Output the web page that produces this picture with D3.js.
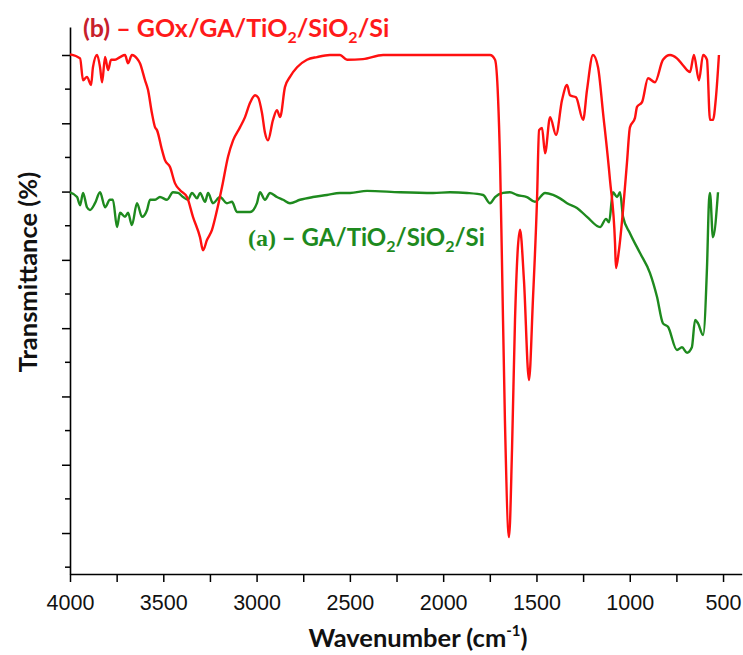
<!DOCTYPE html>
<html><head><meta charset="utf-8">
<script src="https://cdn.jsdelivr.net/npm/d3@7"></script>
<style>body{margin:0;background:#fff}svg{display:block}</style>
</head><body>
<svg id="c" width="743" height="655"></svg>
<script>
// wavenumber (cm-1)
const redW = [4000,3946,3930,3909,3887,3877,3855,3839,3828,3812,3796,3780,3759,3732,3705,3689,3668,3641,3625,3598,3582,3561,3544,3534,3507,3491,3464,3437,3410,3373,3341,3303,3287,3266,3239,3212,3185,3153,3126,3089,3062,3035,3008,2992,2971,2955,2939,2912,2891,2874,2848,2821,2783,2730,2676,2607,2553,2515,2430,2322,2140,1749,1722,1706,1695,1685,1669,1647,1631,1615,1588,1567,1540,1519,1497,1486,1470,1454,1427,1395,1363,1336,1320,1288,1250,1229,1197,1170,1143,1106,1079,1074,1058,1036,1015,999,972,961,934,902,865,822,784,747,715,677,656,629,607,586,570,554,538,522];
const redT = [70.1,69.5,66.3,66.8,65.6,68.2,70.0,68.2,66.0,69.7,67.8,69.3,69.3,69.7,70.0,68.8,70.0,69.5,68.8,66.3,64.9,61.5,59.4,59.0,56.1,54.6,53.6,51.2,50.2,49.2,46.3,43.3,41.4,42.9,44.4,47.3,50.7,55.1,57.5,59.4,60.9,63.0,64.1,63.8,61.5,58.6,57.5,60.5,61.9,60.9,65.3,66.8,68.2,69.3,69.7,70.0,70.0,69.3,69.4,70.0,70.0,70.0,69.3,63.8,54.2,40.0,16.5,-0.6,12.2,31.2,44.4,37.0,22.4,34.1,48.8,59.0,59.3,55.6,60.9,58.3,63.4,65.6,64.1,63.8,60.5,64.9,70.0,68.2,61.5,51.7,42.5,38.8,41.4,47.3,54.2,59.4,60.8,62.4,63.1,66.6,66.0,69.3,70.0,69.5,68.5,67.5,70.0,66.3,70.0,69.3,60.5,60.5,63.8,70.0];
const greenW = [4000,3962,3946,3930,3909,3893,3866,3839,3812,3786,3770,3748,3732,3705,3689,3668,3641,3614,3587,3571,3544,3518,3480,3448,3421,3394,3368,3346,3319,3303,3276,3260,3234,3196,3159,3132,3105,3073,3035,2998,2982,2955,2928,2891,2858,2821,2767,2698,2623,2553,2499,2408,2231,2054,1963,1872,1786,1749,1722,1679,1642,1604,1551,1508,1454,1411,1374,1336,1283,1229,1159,1127,1111,1090,1068,1052,1036,999,945,892,854,822,795,747,720,693,667,650,634,607,586,575,570,554,527];
const greenT = [49.9,49.2,48.0,49.8,47.7,47.3,48.3,49.9,47.7,48.8,48.8,44.8,46.9,46.3,46.9,45.1,48.3,46.3,47.3,48.8,48.8,49.2,48.8,49.9,49.8,49.2,48.8,49.8,49.0,49.8,48.5,49.8,48.3,49.2,48.3,48.5,47.0,47.0,47.0,48.3,49.9,48.8,49.8,49.2,48.8,48.3,48.8,49.2,49.5,49.8,49.8,50.1,49.9,49.8,49.9,49.8,49.5,48.3,49.2,49.8,49.9,49.5,49.2,48.5,49.8,49.5,49.0,48.3,47.6,46.3,44.8,46.0,45.5,49.9,49.2,49.9,46.3,43.9,41.0,38.1,34.6,30.7,30.2,26.8,27.2,26.4,27.2,31.2,30.7,29.0,38.9,48.8,49.8,43.3,49.9];
const xTickLabels = [4000,3500,3000,2500,2000,1500,1000,500];
const xMinorTicks = [3750,3250,2750,2250,1750,1250,750];
const yMajorTicks = [0,10,20,30,40,50,60,70];
const yMinorTicks = [-5,5,15,25,35,45,55,65];

const svg = d3.select('#c');
const x = d3.scaleLinear().domain([4000,400]).range([70,741.7]);
const y = d3.scaleLinear().domain([-6,74.1]).range([574,27]);

const gx = svg.append('g').attr('transform','translate(0,574)');
gx.call(d3.axisBottom(x).tickValues(xTickLabels.concat(xMinorTicks)).tickSize(8).tickSizeOuter(0)
  .tickFormat(d => xTickLabels.includes(d) ? d : ''));
gx.select('.domain').attr('stroke','#000').attr('stroke-width',1.6);
gx.selectAll('.tick line').attr('stroke','#000').attr('stroke-width',1.5);
gx.selectAll('.tick text').attr('font-family','Liberation Sans, Arial, sans-serif').attr('font-size',21.5).attr('fill','#111')
  .attr('y',36).attr('dy',0);

const gy = svg.append('g').attr('transform','translate(70,0)');
gy.call(d3.axisLeft(y).tickValues(yMajorTicks).tickSize(8).tickSizeOuter(0).tickFormat(''));
gy.call(g => g.selectAll('.minor').data(yMinorTicks).join('line').attr('class','minor')
  .attr('x1',-5).attr('x2',0).attr('y1',d=>y(d)).attr('y2',d=>y(d)).attr('stroke','#000').attr('stroke-width',1.5));
gy.select('.domain').attr('stroke','#000').attr('stroke-width',1.6);
gy.selectAll('.tick line').attr('stroke','#000').attr('stroke-width',1.5);

const line = d3.line().x(d=>x(d[0])).y(d=>y(d[1])).curve(d3.curveMonotoneX);
svg.append('path').datum(greenW.map((w,i)=>[w,greenT[i]])).attr('d',line)
  .attr('fill','none').attr('stroke','#1e8a1e').attr('stroke-width',2.4).attr('stroke-linejoin','round');
svg.append('path').datum(redW.map((w,i)=>[w,redT[i]])).attr('d',line)
  .attr('fill','none').attr('stroke','#ff1010').attr('stroke-width',2.4).attr('stroke-linejoin','round');

// labels
const tb = svg.append('text').attr('x',83).attr('y',37).attr('font-family','Lato, sans-serif').attr('font-weight',700).attr('font-size',25);
tb.append('tspan').attr('fill','#c8202c').text('(b)');
tb.append('tspan').attr('fill','#ff1a1a').text(' – GOx/GA/TiO');
tb.append('tspan').attr('fill','#ff1a1a').attr('font-size',16).attr('dy',6).text('2');
tb.append('tspan').attr('fill','#ff1a1a').attr('dy',-6).text('/SiO');
tb.append('tspan').attr('fill','#ff1a1a').attr('font-size',16).attr('dy',6).text('2');
tb.append('tspan').attr('fill','#ff1a1a').attr('dy',-6).text('/Si');

const ta = svg.append('text').attr('x',248).attr('y',246).attr('fill','#1e8a1e').attr('font-weight',700).attr('font-size',24);
ta.append('tspan').attr('font-family','Liberation Serif, serif').text('(a)');
ta.append('tspan').attr('font-family','Lato, sans-serif').text(' – GA/TiO');
ta.append('tspan').attr('font-family','Lato, sans-serif').attr('font-size',16).attr('dy',6).text('2');
ta.append('tspan').attr('font-family','Lato, sans-serif').attr('dy',-6).text('/SiO');
ta.append('tspan').attr('font-family','Lato, sans-serif').attr('font-size',16).attr('dy',6).text('2');
ta.append('tspan').attr('font-family','Lato, sans-serif').attr('dy',-6).text('/Si');

const xl = svg.append('text').attr('x',418).attr('y',647).attr('text-anchor','middle').attr('font-family','Lato, sans-serif').attr('font-weight',700).attr('font-size',25.5).attr('fill','#111');
xl.append('tspan').text('Wavenumber (cm');
xl.append('tspan').attr('font-size',15).attr('dy',-11).text('-1');
xl.append('tspan').attr('dy',11).text(')');

svg.append('text').attr('transform','translate(37,272) rotate(-90)').attr('text-anchor','middle')
  .attr('font-family','Lato, sans-serif').attr('font-weight',700).attr('font-size',25.5).attr('fill','#111').text('Transmittance (%)');
</script>
</body></html>
